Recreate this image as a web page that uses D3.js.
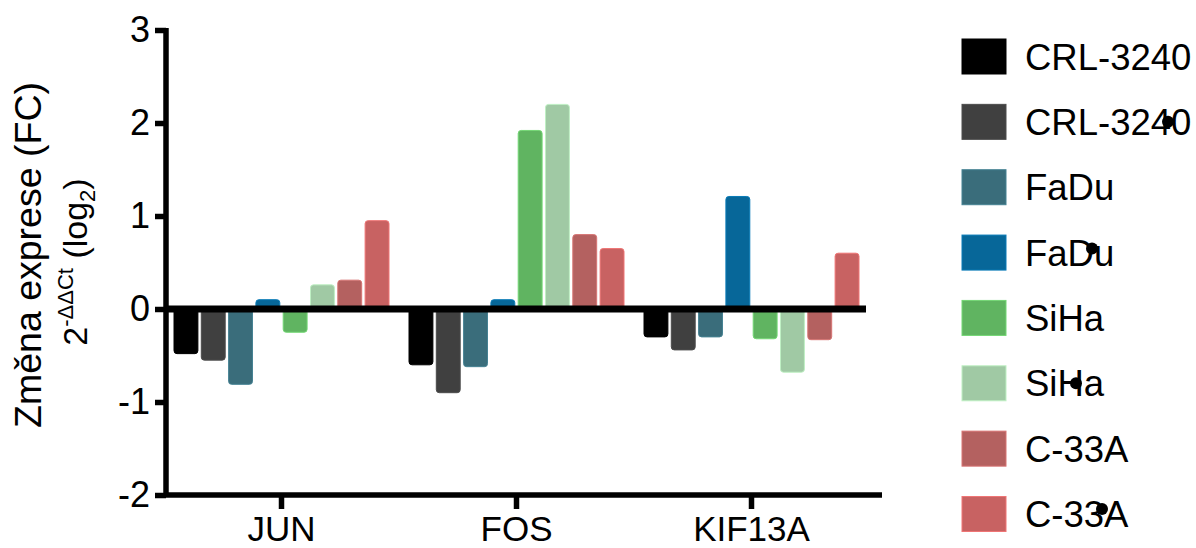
<!DOCTYPE html>
<html>
<head>
<meta charset="utf-8">
<script src="https://cdn.jsdelivr.net/npm/d3@7"></script>
<style>
  html, body { margin: 0; padding: 0; background: #fff; }
  text { font-family: "Liberation Sans", Arial, sans-serif; fill: #000; }
</style>
</head>
<body>
<div id="chart"></div>
<script>
// geny na ose x
const genes = ["JUN", "FOS", "KIF13A"]
// linie (dva vzorky na linii)
const seriesNames = ["CRL-3240", "CRL-3240", "FaDu", "FaDu", "SiHa", "SiHa", "C-33A", "C-33A"]
const seriesColors = ["#000000", "#404040", "#3a6d7b", "#076799", "#60b461", "#a0c9a4", "#b46160", "#c86262"]
// log2 FC, po radcich podle genu
const valuesJUN = [-0.48, -0.55, -0.81, 0.10, -0.25, 0.26, 0.31, 0.95]
const valuesFOS = [-0.60, -0.90, -0.62, 0.10, 1.92, 2.20, 0.80, 0.65]
const valuesKIF13A = [-0.30, -0.44, -0.30, 1.21, -0.32, -0.68, -0.33, 0.60]
const yTicks = [-2, -1, 0, 1, 2, 3]
// tecky v legende (index polozky, posun x od zacatku textu, posun y)
const legendDots = [[1, 143, 0], [3, 67, -4], [5, 51, 0], [7, 77, -5]]

const values = [valuesJUN, valuesFOS, valuesKIF13A]

const W = 1196, H = 548
const FONT = "'Liberation Sans', Arial, sans-serif"
const svg = d3.select("#chart").append("svg")
  .attr("width", W)
  .attr("height", H)

const y = d3.scaleLinear().domain([-2, 3]).range([495, 30])
const x0 = d3.scaleBand().domain(genes).range([164, 869])
const groupW = 216
const x1 = d3.scaleBand().domain(d3.range(seriesNames.length))
  .range([0, groupW]).paddingInner(0.088)

// sloupce
const groups = svg.append("g").selectAll("g")
  .data(genes)
  .join("g")
  .attr("transform", g => "translate(" + (x0(g) + x0.bandwidth() / 2 - groupW / 2) + ",0)")

groups.selectAll("rect")
  .data((g, gi) => values[gi].map((v, i) => ({ v, i })))
  .join("rect")
  .attr("x", d => x1(d.i) + 0.5)
  .attr("width", x1.bandwidth() - 1)
  .attr("y", d => Math.min(y(d.v), y(0)))
  .attr("height", d => Math.abs(y(d.v) - y(0)))
  .attr("rx", 3)
  .attr("fill", d => seriesColors[d.i])
  .attr("stroke", d => d3.color(seriesColors[d.i]).brighter(0.5))
  .attr("stroke-width", 1)

// nulova cara
svg.append("line")
  .attr("x1", 164).attr("x2", 866)
  .attr("y1", y(0)).attr("y2", y(0))
  .attr("stroke", "#000").attr("stroke-width", 7)

// osa y
const yAxis = svg.append("g")
  .attr("transform", "translate(166,0)")
  .call(d3.axisLeft(y).tickValues(yTicks).tickSize(11).tickPadding(5).tickFormat(d => String(d)))
yAxis.select(".domain").attr("stroke-width", 5.5).attr("d", "M0," + (y(3) - 2) + "V" + (y(-2) + 2))
yAxis.selectAll(".tick line").attr("stroke-width", 5.5)
yAxis.selectAll(".tick text").attr("font-size", 36).style("font-family", FONT)

// osa x
const xAxis = svg.append("g")
  .attr("transform", "translate(0," + y(-2) + ")")
  .call(d3.axisBottom(x0).tickSize(14).tickPadding(7))
xAxis.select(".domain").attr("stroke-width", 5.5).attr("d", "M164,0H882")
xAxis.selectAll(".tick line").attr("stroke-width", 5.5)
xAxis.selectAll(".tick text").attr("font-size", 35).style("font-family", FONT)

// popisek osy y
const title = svg.append("g").attr("transform", "translate(40.5,255) rotate(-90)")
title.append("text")
  .attr("text-anchor", "middle")
  .attr("font-size", 37.5)
  .text("Změna exprese (FC)")
const sub = svg.append("text")
  .attr("transform", "translate(87,262) rotate(-90)")
  .attr("text-anchor", "middle")
  .attr("font-size", 34)
sub.append("tspan").text("2")
sub.append("tspan").attr("font-size", 22).attr("dy", -14).text("-ΔΔCt")
sub.append("tspan").attr("dy", 14).text(" (log")
sub.append("tspan").attr("font-size", 22).attr("dy", 8).text("2")
sub.append("tspan").attr("dy", -8).text(")")

// legenda
const ly = d3.scalePoint().domain(d3.range(seriesNames.length)).range([56.5, 514])
const legend = svg.append("g").selectAll("g")
  .data(seriesNames)
  .join("g")
  .attr("transform", (d, i) => "translate(962," + ly(i) + ")")
legend.append("rect")
  .attr("x", 0).attr("y", -17.5)
  .attr("width", 44).attr("height", 35)
  .attr("fill", (d, i) => seriesColors[i])
  .attr("stroke", (d, i) => d3.color(seriesColors[i]).brighter(0.5))
legend.append("text")
  .attr("x", 63).attr("y", 13)
  .attr("font-size", 36.5)
  .text(d => d)

svg.append("g").selectAll("circle")
  .data(legendDots)
  .join("circle")
  .attr("cx", d => 962 + 63 + d[1])
  .attr("cy", d => ly(d[0]) + d[2])
  .attr("r", 6)
  .attr("fill", "#000")
</script>
</body>
</html>
